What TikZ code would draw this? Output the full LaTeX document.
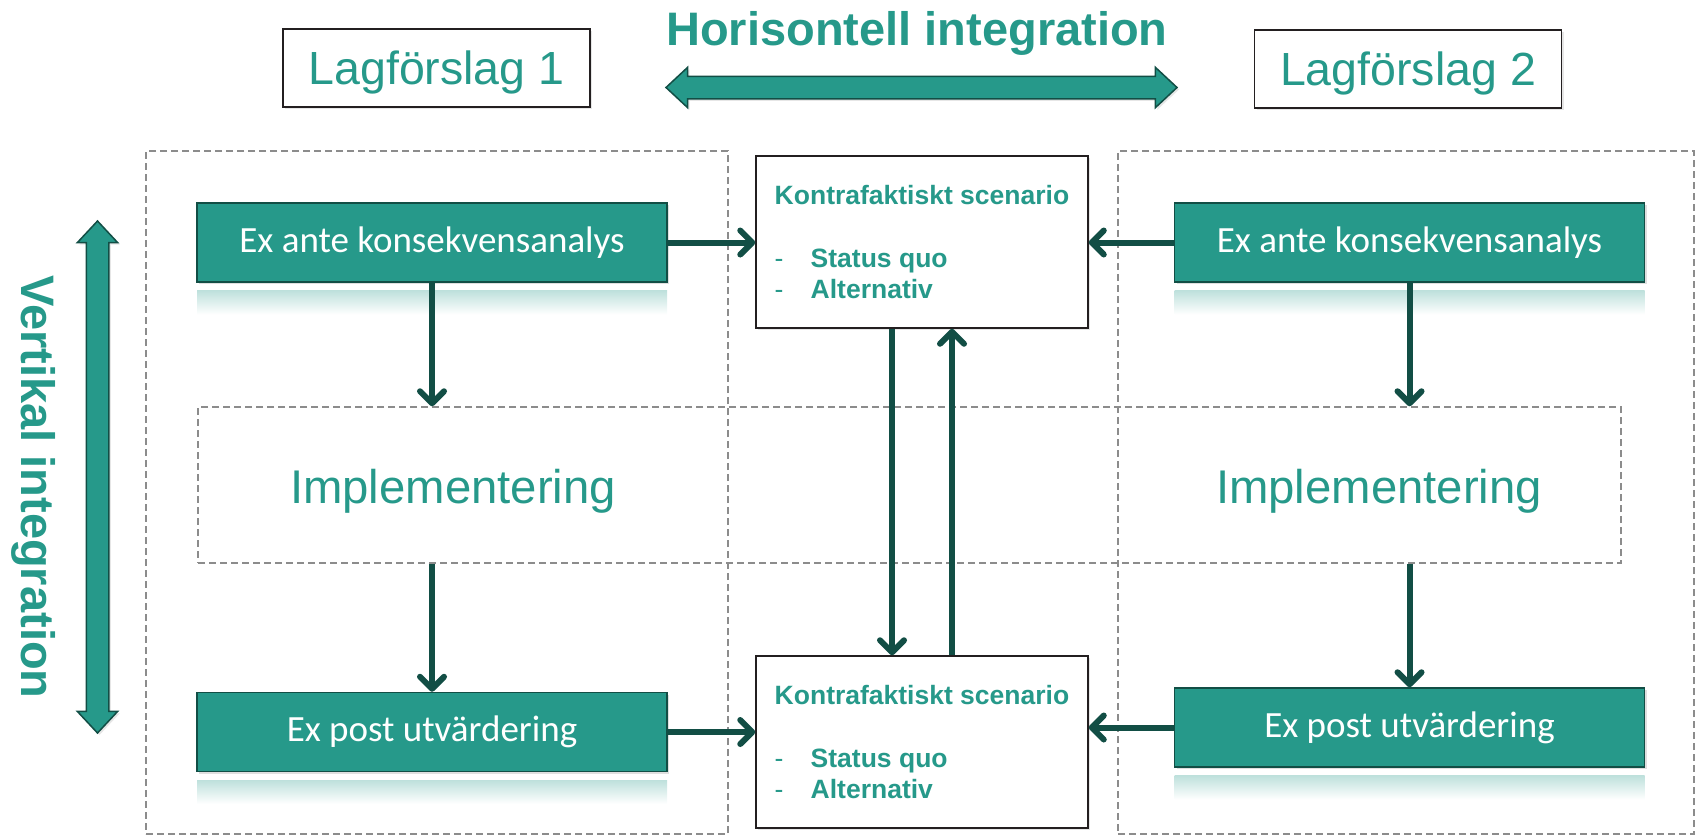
\documentclass[tikz,border=0pt]{standalone}
\usepackage{fontspec}
\setmainfont{Liberation Sans}
\newfontfamily\calibri{Carlito}
\usetikzlibrary{arrows.meta,shapes.arrows,shadows}
\definecolor{kteal}{HTML}{26998A}
\definecolor{kdark}{HTML}{124E45}
\definecolor{kframe}{HTML}{231F20}
\definecolor{kdash}{HTML}{8C8C8C}

\begin{document}
\begin{tikzpicture}[x=1pt,y=-1pt]
	\tikzset{every node/.style={inner sep=0pt}}
	\tikzset{lagbox/.style={draw=kframe,line width=1.5pt,fill=white,minimum width=307pt,minimum height=78pt,text=kteal,text depth=0pt,font=\fontsize{46.5}{50}\selectfont,drop shadow={shadow xshift=2pt,shadow yshift=-2pt,opacity=0.2}}}
	\tikzset{exbox/.style={draw=kdark,line width=1.5pt,fill=kteal,minimum width=470pt,minimum height=79pt,text=white,font=\calibri\fontsize{37}{40}\selectfont,drop shadow={shadow xshift=2pt,shadow yshift=-2pt,opacity=0.25}}}
	\tikzset{kontrabox/.style={draw=kframe,line width=1.5pt,fill=white,minimum width=332pt,minimum height=172pt,align=left,text=kteal,font=\bfseries\fontsize{26.5}{31.5}\selectfont,drop shadow={shadow xshift=2pt,shadow yshift=-2pt,opacity=0.2}}}
	\tikzset{dashbox/.style={draw=kdash,line width=1.5pt,dash pattern=on 7pt off 4pt}}
	\tikzset{bigtext/.style={text=kteal,font=\bfseries\fontsize{47}{50}\selectfont,anchor=base}}
	\tikzset{impltext/.style={text=kteal,font=\fontsize{47.3}{50}\selectfont,anchor=base}}
	\tikzset{bigarrow/.style={double arrow,draw=kdark,line width=1.5pt,fill=kteal,inner xsep=0pt,inner ysep=10.5pt,double arrow head extend=9pt,double arrow tip angle=86,drop shadow={shadow xshift=2pt,shadow yshift=-2pt,opacity=0.2}}}
	\tikzset{flow/.style={draw=kdark,line width=6pt,-{Straight Barb[length=12pt,width=24pt,round]}}}
	\useasboundingbox (0,0) rectangle (1696,836);
	% dashed frames
	\node[dashbox,minimum width=582pt,minimum height=683pt] (col1) at (437,492.5) {};
	\node[dashbox,minimum width=576pt,minimum height=683pt] (col2) at (1406,492.5) {};
	\node[dashbox,minimum width=1423pt,minimum height=156pt] (impl) at (909.5,485) {};
	\node[impltext] (impl1) at (453,503) {Implementering};
	\node[impltext] (impl2) at (1379,503) {Implementering};
	% headings
	\node[bigtext] (htitle) at (917,45) {Horisontell integration};
	\node[bigarrow,minimum height=511pt] (harrow) at (921.5,87.5) {};
	\node[bigtext,rotate=-90] (vtitle) at (21,487) {Vertikal integration};
	\node[bigarrow,minimum height=512pt,rotate=90] (varrow) at (97.5,477) {};
	\node[lagbox] (lag1) at (436.5,68) {Lagförslag 1};
	\node[lagbox] (lag2) at (1408,69) {Lagförslag 2};
	% boxes
	\foreach \b/\x/\y/\t in {exante1/432/242.5/Ex ante konsekvensanalys,exante2/1409.5/242.5/Ex ante konsekvensanalys,expost1/432/732/Ex post utvärdering,expost2/1409.5/727.5/Ex post utvärdering}{
		\shade[top color=kteal!30,bottom color=white] (\x-235,\y+48) rectangle (\x+235,\y+72);
		\node[exbox] (\b) at (\x,\y) {\t};
	}
	\node[kontrabox] (kontra1) at (922,242) {Kontrafaktiskt scenario\\[31.5pt]\makebox[36pt][l]{\mdseries -}Status quo\\\makebox[36pt][l]{\mdseries -}Alternativ};
	\node[kontrabox] (kontra2) at (922,742) {Kontrafaktiskt scenario\\[31.5pt]\makebox[36pt][l]{\mdseries -}Status quo\\\makebox[36pt][l]{\mdseries -}Alternativ};
	% arrows
	\draw[flow] (exante1.east) -- (exante1.east -| kontra1.west);
	\draw[flow] (exante2.west) -- (exante2.west -| kontra1.east);
	\draw[flow] (expost1.east) -- (expost1.east -| kontra2.west);
	\draw[flow] (expost2.west) -- (expost2.west -| kontra2.east);
	\draw[flow] ([xshift=-30pt]kontra1.south) -- ([xshift=-30pt]kontra2.north);
	\draw[flow] ([xshift=30pt]kontra2.north) -- ([xshift=30pt]kontra1.south);
	\foreach \c in {1,2}{
		\draw[flow] (exante\c.south) -- (exante\c.south |- impl.north);
		\draw[flow] (exante\c.south |- impl.south) -- (expost\c.north);
	}
\end{tikzpicture}
\end{document}
